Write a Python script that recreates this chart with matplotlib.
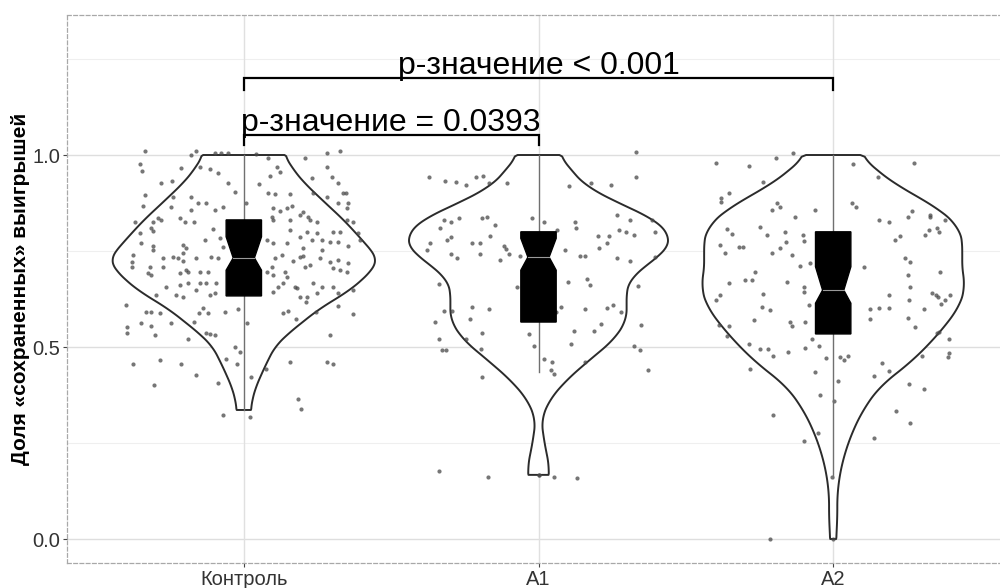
import numpy as np
import matplotlib
matplotlib.use("Agg")
import matplotlib.pyplot as plt

plt.rcParams['font.family'] = ['Liberation Sans', 'DejaVu Sans']

# ---------------- data ----------------
categories = ["Контроль", "A1", "A2"]
y_label = "Доля «сохраненных» выигрышей"
y_ticks = [0.0, 0.5, 1.0]
y_ticklabels = ["0.0", "0.5", "1.0"]

# violin outlines: value levels and half-widths (category units)
ctrl_violin_y = [0.336, 0.36, 0.396, 0.448, 0.50, 0.536, 0.565, 0.596, 0.622, 0.648,
                 0.674, 0.70, 0.725, 0.74, 0.78, 0.83, 0.88, 0.926, 0.96, 1.0]
ctrl_violin_w = [0.024, 0.028, 0.041, 0.071, 0.105, 0.152, 0.20, 0.25, 0.305, 0.36,
                 0.40, 0.435, 0.452, 0.445, 0.40, 0.34, 0.27, 0.207, 0.17, 0.138]
a1_violin_y = [0.167, 0.188, 0.224, 0.266, 0.31, 0.362, 0.414, 0.466, 0.518, 0.57,
               0.622, 0.648, 0.675, 0.70, 0.727, 0.75, 0.773, 0.80, 0.83, 0.865,
               0.917, 0.96, 1.0]
a1_violin_w = [0.034, 0.037, 0.027, 0.017, 0.010, 0.037, 0.095, 0.173, 0.255, 0.299,
               0.299, 0.299, 0.309, 0.346, 0.390, 0.431, 0.448, 0.435, 0.401, 0.299,
               0.163, 0.112, 0.071]
a2_violin_y = [0.0, 0.05, 0.12, 0.188, 0.258, 0.328, 0.396, 0.466, 0.536, 0.604,
               0.656, 0.719, 0.76, 0.813, 0.865, 0.917, 0.961, 1.0]
a2_violin_w = [0.010, 0.014, 0.014, 0.027, 0.054, 0.095, 0.156, 0.272, 0.360, 0.428,
               0.448, 0.435, 0.441, 0.428, 0.350, 0.224, 0.146, 0.092]

# box statistics: q1, notch low, median, notch high, q3, whisker low, whisker high
ctrl_box = [0.633, 0.700, 0.732, 0.787, 0.831, 0.335, 1.0]
a1_box = [0.565, 0.700, 0.734, 0.783, 0.800, 0.435, 1.0]
a2_box = [0.534, 0.614, 0.648, 0.709, 0.800, 0.160, 1.0]

# jittered observations: horizontal jitter offset and value
ctrl_jit = [-0.336, -0.161, -0.178, -0.099, -0.076, -0.053, 0.043, 0.281, 0.326, 0.207, 0.083,
            -0.351, -0.344, -0.212, -0.149, -0.115, -0.087, 0.111, 0.122, 0.281, 0.298,
            -0.282, -0.242, -0.053, -0.031, 0.052, 0.088, 0.083, 0.105, 0.156, 0.230, 0.235,
            0.320, 0.337, 0.346, -0.336, -0.342, -0.240, -0.246, -0.178, -0.155, -0.127,
            -0.178, -0.070, -0.099, 0.009, 0.100, 0.122, 0.145, 0.162, 0.201, 0.281, 0.320,
            0.354, 0.349, -0.370, -0.308, -0.291, -0.280, -0.314, -0.308, -0.217, -0.200,
            -0.170, -0.353, -0.104, 0.094, 0.100, 0.156, 0.190, 0.218, 0.247, 0.224, 0.349,
            0.371, 0.156, 0.213, 0.247, 0.303, 0.326, 0.388, -0.348, -0.308, -0.206, -0.195,
            -0.132, -0.082, -0.070, 0.077, 0.100, 0.145, 0.190, 0.230, 0.264, 0.292, 0.320,
            0.354, 0.394, 0.264, 0.201, -0.206, -0.308, -0.376, -0.381, -0.378, -0.319,
            -0.274, -0.274, -0.240, -0.223, -0.206, -0.161, -0.110, -0.087, 0.094, 0.105,
            0.128, 0.167, 0.190, 0.207, 0.224, 0.258, 0.292, 0.320, 0.354, 0.201, 0.303,
            0.326, 0.349, -0.314, -0.325, -0.195, -0.189, -0.217, -0.149, -0.121, 0.077,
            0.100, 0.139, 0.145, -0.263, -0.217, -0.189, -0.149, -0.127, -0.093, -0.099,
            -0.115, -0.161, -0.297, -0.229, -0.206, 0.117, 0.134, 0.173, 0.179, 0.235,
            0.264, 0.247, 0.213, 0.190, 0.303, 0.320, 0.371, 0.100,
            -0.399, -0.396, -0.396, -0.376, -0.348, -0.331, -0.314, -0.314, -0.303, -0.286,
            -0.283, -0.306, -0.246, -0.212, -0.189, -0.161, -0.169, -0.152, -0.139, -0.122,
            -0.127, -0.116, -0.099, -0.088, -0.071, -0.059, -0.065, -0.031, -0.023, -0.020,
            -0.014, 0.011, 0.020, 0.026, 0.076, 0.133, 0.150, 0.156, 0.178, 0.184, 0.195,
            0.212, 0.246, 0.281, 0.294, 0.301, 0.320, 0.371]
ctrl_val = [1.011, 1.011, 1.000, 1.006, 1.006, 1.004, 1.003, 1.006, 1.011, 0.991, 0.991,
            0.976, 0.959, 0.965, 0.968, 0.963, 0.952, 0.968, 0.955, 0.970, 0.944,
            0.928, 0.933, 0.926, 0.904, 0.924, 0.945, 0.900, 0.898, 0.898, 0.939, 0.900,
            0.926, 0.902, 0.900, 0.896, 0.867, 0.890, 0.865, 0.891, 0.874, 0.874,
            0.858, 0.865, 0.857, 0.874, 0.861, 0.855, 0.861, 0.867, 0.852, 0.890, 0.874,
            0.874, 0.861, 0.826, 0.826, 0.835, 0.832, 0.809, 0.803, 0.835, 0.826,
            0.826, 0.796, 0.806, 0.839, 0.832, 0.831, 0.844, 0.839, 0.826, 0.831, 0.831,
            0.826, 0.805, 0.800, 0.796, 0.800, 0.800, 0.796, 0.770, 0.763, 0.766, 0.757,
            0.779, 0.783, 0.761, 0.779, 0.770, 0.770, 0.787, 0.779, 0.779, 0.774, 0.774,
            0.763, 0.779, 0.753, 0.757, 0.744, 0.753, 0.739, 0.722, 0.709, 0.709,
            0.731, 0.709, 0.735, 0.731, 0.725, 0.731, 0.735, 0.731, 0.709, 0.733,
            0.739, 0.725, 0.735, 0.709, 0.713, 0.731, 0.722, 0.726, 0.718, 0.737, 0.705,
            0.700, 0.696, 0.687, 0.692, 0.700, 0.696, 0.692, 0.696, 0.696, 0.696,
            0.687, 0.696, 0.683, 0.657, 0.661, 0.666, 0.667, 0.667, 0.667, 0.640,
            0.635, 0.648, 0.635, 0.635, 0.631, 0.657, 0.666, 0.657, 0.653, 0.667,
            0.657, 0.640, 0.631, 0.631, 0.657, 0.640, 0.648, 0.644,
            0.609, 0.553, 0.536, 0.457, 0.563, 0.592, 0.592, 0.555, 0.531, 0.589,
            0.466, 0.401, 0.563, 0.457, 0.520, 0.427, 0.566, 0.589, 0.601, 0.589,
            0.536, 0.534, 0.531, 0.407, 0.323, 0.470, 0.592, 0.501, 0.457, 0.598,
            0.488, 0.563, 0.319, 0.421, 0.444, 0.588, 0.595, 0.462, 0.572, 0.364, 0.338,
            0.618, 0.592, 0.462, 0.531, 0.456, 0.607, 0.586]

a1_jit = [-0.373, -0.316, -0.279, -0.245, -0.211, -0.188, -0.169, -0.107, 0.330, 0.330,
          0.104, 0.179, 0.245, -0.322, -0.297, -0.271, -0.333, -0.192, -0.175, -0.147,
          -0.022, 0.019, 0.062, 0.124, 0.126, 0.265, 0.311, 0.386, 0.397, 0.273, 0.296,
          0.324, 0.239, 0.202, -0.369, -0.379, -0.311, -0.297, -0.226, -0.197, -0.166,
          -0.116, -0.109, -0.101, -0.197, -0.297, -0.277, -0.130, -0.062, 0.140, 0.157,
          0.089, 0.205, 0.234, 0.268, 0.311, 0.394, -0.336, -0.073, 0.101, 0.166, 0.175,
          0.339, -0.322, -0.294, -0.226, -0.168, -0.234, -0.350, 0.075, 0.058, 0.157,
          0.234, 0.254, 0.279, 0.211, 0.188, 0.120, 0.347, -0.339, -0.328, -0.313,
          -0.245, -0.192, -0.194, -0.033, -0.016, 0.109, 0.157, 0.324, 0.345, 0.372,
          -0.192, 0.019, 0.047, 0.044, 0.053, -0.338, -0.172, 0.131, 0.053, 0.0, 0.0]
a1_val = [0.943, 0.932, 0.930, 0.922, 0.942, 0.945, 0.928, 0.926, 1.009, 0.942,
          0.920, 0.928, 0.922, 0.831, 0.826, 0.835, 0.809, 0.835, 0.839, 0.818,
          0.835, 0.826, 0.805, 0.826, 0.809, 0.844, 0.831, 0.831, 0.800, 0.805, 0.800,
          0.792, 0.789, 0.789, 0.770, 0.752, 0.778, 0.787, 0.772, 0.772, 0.789,
          0.763, 0.754, 0.741, 0.741, 0.742, 0.733, 0.726, 0.737, 0.737, 0.737,
          0.752, 0.759, 0.770, 0.731, 0.725, 0.735, 0.664, 0.657, 0.670, 0.676, 0.661,
          0.659, 0.594, 0.594, 0.605, 0.598, 0.572, 0.565, 0.605, 0.592, 0.598,
          0.601, 0.609, 0.592, 0.560, 0.542, 0.542, 0.556, 0.522, 0.492, 0.492,
          0.522, 0.537, 0.496, 0.533, 0.503, 0.509, 0.462, 0.503, 0.492, 0.440,
          0.421, 0.470, 0.462, 0.440, 0.430, 0.178, 0.162, 0.158, 0.162, 0.167, 0.167]

a2_jit = [-0.397, -0.287, -0.194, -0.137, 0.067, 0.151, 0.273, -0.239, -0.352, -0.381,
          -0.381, -0.208, -0.191, -0.180, -0.129, -0.061, 0.063, 0.078, 0.154, 0.188,
          0.254, 0.269, 0.327, 0.329, 0.380, -0.361, -0.344, -0.250, -0.223, -0.163,
          -0.160, -0.101, -0.098, -0.384, -0.318, -0.305, -0.367, -0.208, -0.180, -0.140,
          0.211, 0.228, 0.310, 0.324, 0.352, 0.358, -0.265, -0.299, -0.276, -0.355,
          -0.157, -0.112, -0.080, 0.106, 0.242, 0.261, 0.254, 0.259, 0.363, -0.384,
          -0.397, -0.239, -0.242, -0.214, -0.098, -0.098, -0.082, 0.191, 0.256, 0.335,
          0.350, 0.354, 0.380, 0.395, 0.366, -0.386, -0.355, -0.361, -0.268, -0.146,
          -0.140, -0.095, 0.126, 0.126, 0.156, 0.188, 0.254, 0.279, 0.309, 0.352, 0.358,
          0.392, -0.284, -0.248, -0.220, -0.203, -0.155, -0.095, -0.073, -0.047, -0.024,
          0.022, 0.037, 0.049, -0.282, -0.061, 0.018, 0.165, 0.191, 0.140, 0.303, 0.389,
          0.392, 0.256, 0.309, -0.044, 0.003, -0.205, 0.214, 0.259, -0.053, -0.098, 0.140,
          -0.004, -0.216, 0.0]
a2_val = [0.978, 0.971, 0.991, 1.004, 0.976, 0.942, 0.978, 0.931, 0.902, 0.887,
          0.878, 0.858, 0.874, 0.864, 0.838, 0.857, 0.876, 0.864, 0.831, 0.826,
          0.838, 0.855, 0.844, 0.839, 0.832, 0.806, 0.794, 0.812, 0.792, 0.800,
          0.774, 0.792, 0.777, 0.766, 0.761, 0.761, 0.744, 0.746, 0.757, 0.740,
          0.779, 0.789, 0.792, 0.805, 0.809, 0.800, 0.696, 0.674, 0.674, 0.667,
          0.670, 0.711, 0.718, 0.709, 0.733, 0.722, 0.687, 0.657, 0.696, 0.635,
          0.622, 0.638, 0.605, 0.596, 0.657, 0.644, 0.609, 0.635, 0.622, 0.640,
          0.635, 0.631, 0.622, 0.635, 0.612, 0.557, 0.555, 0.529, 0.570, 0.566,
          0.555, 0.566, 0.598, 0.572, 0.601, 0.601, 0.575, 0.553, 0.598, 0.536, 0.540,
          0.522, 0.508, 0.494, 0.494, 0.477, 0.488, 0.497, 0.520, 0.503, 0.472,
          0.475, 0.466, 0.477, 0.444, 0.436, 0.412, 0.459, 0.438, 0.424, 0.477, 0.473,
          0.484, 0.404, 0.390, 0.375, 0.360, 0.323, 0.334, 0.301, 0.277, 0.256, 0.262,
          0.162, 0.0, 0.0]

violins_y = [ctrl_violin_y, a1_violin_y, a2_violin_y]
violins_w = [ctrl_violin_w, a1_violin_w, a2_violin_w]
boxes = [ctrl_box, a1_box, a2_box]
jits = [ctrl_jit, a1_jit, a2_jit]
vals = [ctrl_val, a1_val, a2_val]

# significance brackets: (start group, end group, bracket level, label)
sig_pairs = [(1, 2, 1.052, "p-значение = 0.0393"),
             (1, 3, 1.2005, "p-значение < 0.001")]

# ---------------- figure ----------------
W, H = 1000, 588
fig = plt.figure(figsize=(W / 100, H / 100), dpi=100)
fig.patch.set_facecolor("white")
ax = fig.add_axes([67 / W, 1 - 563 / H, (1010 - 67) / W, (563 - 15) / H])
ax.set_xlim(0.4, 3.6)
ax.set_ylim(-0.0625, 1.3646)
ax.set_facecolor("white")

# grid
for yv in [0.25, 0.75, 1.25]:
    ax.axhline(yv, color="#efefef", lw=0.8, zorder=0)
for yv in y_ticks:
    ax.axhline(yv, color="#dedede", lw=1.0, zorder=0)
positions = np.arange(1, len(categories) + 1)
for xp in positions:
    ax.axvline(xp, color="#e0e0e0", lw=1.0, zorder=0)

def smooth_profile(yv, wv, n=220, k=7):
    yy = np.linspace(yv[0], yv[-1], n)
    ww = np.interp(yy, yv, wv)
    pad = np.concatenate([np.full(k, ww[0]), ww, np.full(k, ww[-1])])
    ker = np.ones(2 * k + 1) / (2 * k + 1)
    ws = np.convolve(pad, ker, mode="same")[k:-k]
    ws[0], ws[-1] = ww[0], ww[-1]
    return yy, ws

for pos, yv, wv in zip(positions, violins_y, violins_w):
    yy, ws = smooth_profile(np.array(yv), np.array(wv))
    xs = np.concatenate([pos - ws, (pos + ws)[::-1]])
    ys = np.concatenate([yy, yy[::-1]])
    ax.fill(xs, ys, facecolor="white", edgecolor="#2b2b2b", lw=1.4, zorder=2,
            joinstyle="round")

for pos, jv, vv in zip(positions, jits, vals):
    ax.scatter(pos + np.array(jv), vv, s=9, color="#484848", alpha=0.75,
               linewidths=0, zorder=3)

bw = 0.06
nw = 0.6 * bw
for pos, b in zip(positions, boxes):
    q1, nlo, med, nhi, q3, wlo, whi = b
    ax.plot([pos, pos], [wlo, q1], color="#707070", lw=1.0, zorder=3.5)
    ax.plot([pos, pos], [q3, whi], color="#707070", lw=1.0, zorder=3.5)
    bx = [pos - bw, pos - bw, pos - nw, pos - bw, pos - bw,
          pos + bw, pos + bw, pos + nw, pos + bw, pos + bw]
    by = [q1, nlo, med, nhi, q3, q3, nhi, med, nlo, q1]
    ax.fill(bx, by, facecolor="black", edgecolor="black", lw=1.0, zorder=4)
    ax.plot([pos - nw, pos + nw], [med, med], color="#9a9a9a", lw=0.8, zorder=4.5)

for g1, g2, lvl, lab in sig_pairs:
    tick = 0.027 if g2 - g1 == 1 else 0.031
    ax.plot([g1, g1, g2, g2], [lvl - tick, lvl, lvl, lvl - tick], color="black",
            lw=1.6, zorder=5, solid_joinstyle="miter")
    ax.text((g1 + g2) / 2, lvl + 0.011, lab, ha="center", va="baseline",
            fontsize=23, color="black", zorder=6)

ax.set_xticks(positions)
ax.set_xticklabels(categories)
ax.set_yticks(y_ticks)
ax.set_yticklabels(y_ticklabels)
ax.tick_params(axis="both", labelsize=14.5, colors="#444444", labelcolor="#333333",
               length=2.75, width=0.8, pad=2)
ax.set_ylabel(y_label, fontsize=15, fontweight="bold", color="black")
ax.yaxis.label.set_va("center")
ax.yaxis.set_label_coords((21 - 67) / (1010 - 67), 0.5)

for sp in ax.spines.values():
    sp.set_linestyle((0, (3, 2)))
    sp.set_color("#a8a8a8")
    sp.set_linewidth(0.9)

fig.savefig("out.png", dpi=100, facecolor="white")
